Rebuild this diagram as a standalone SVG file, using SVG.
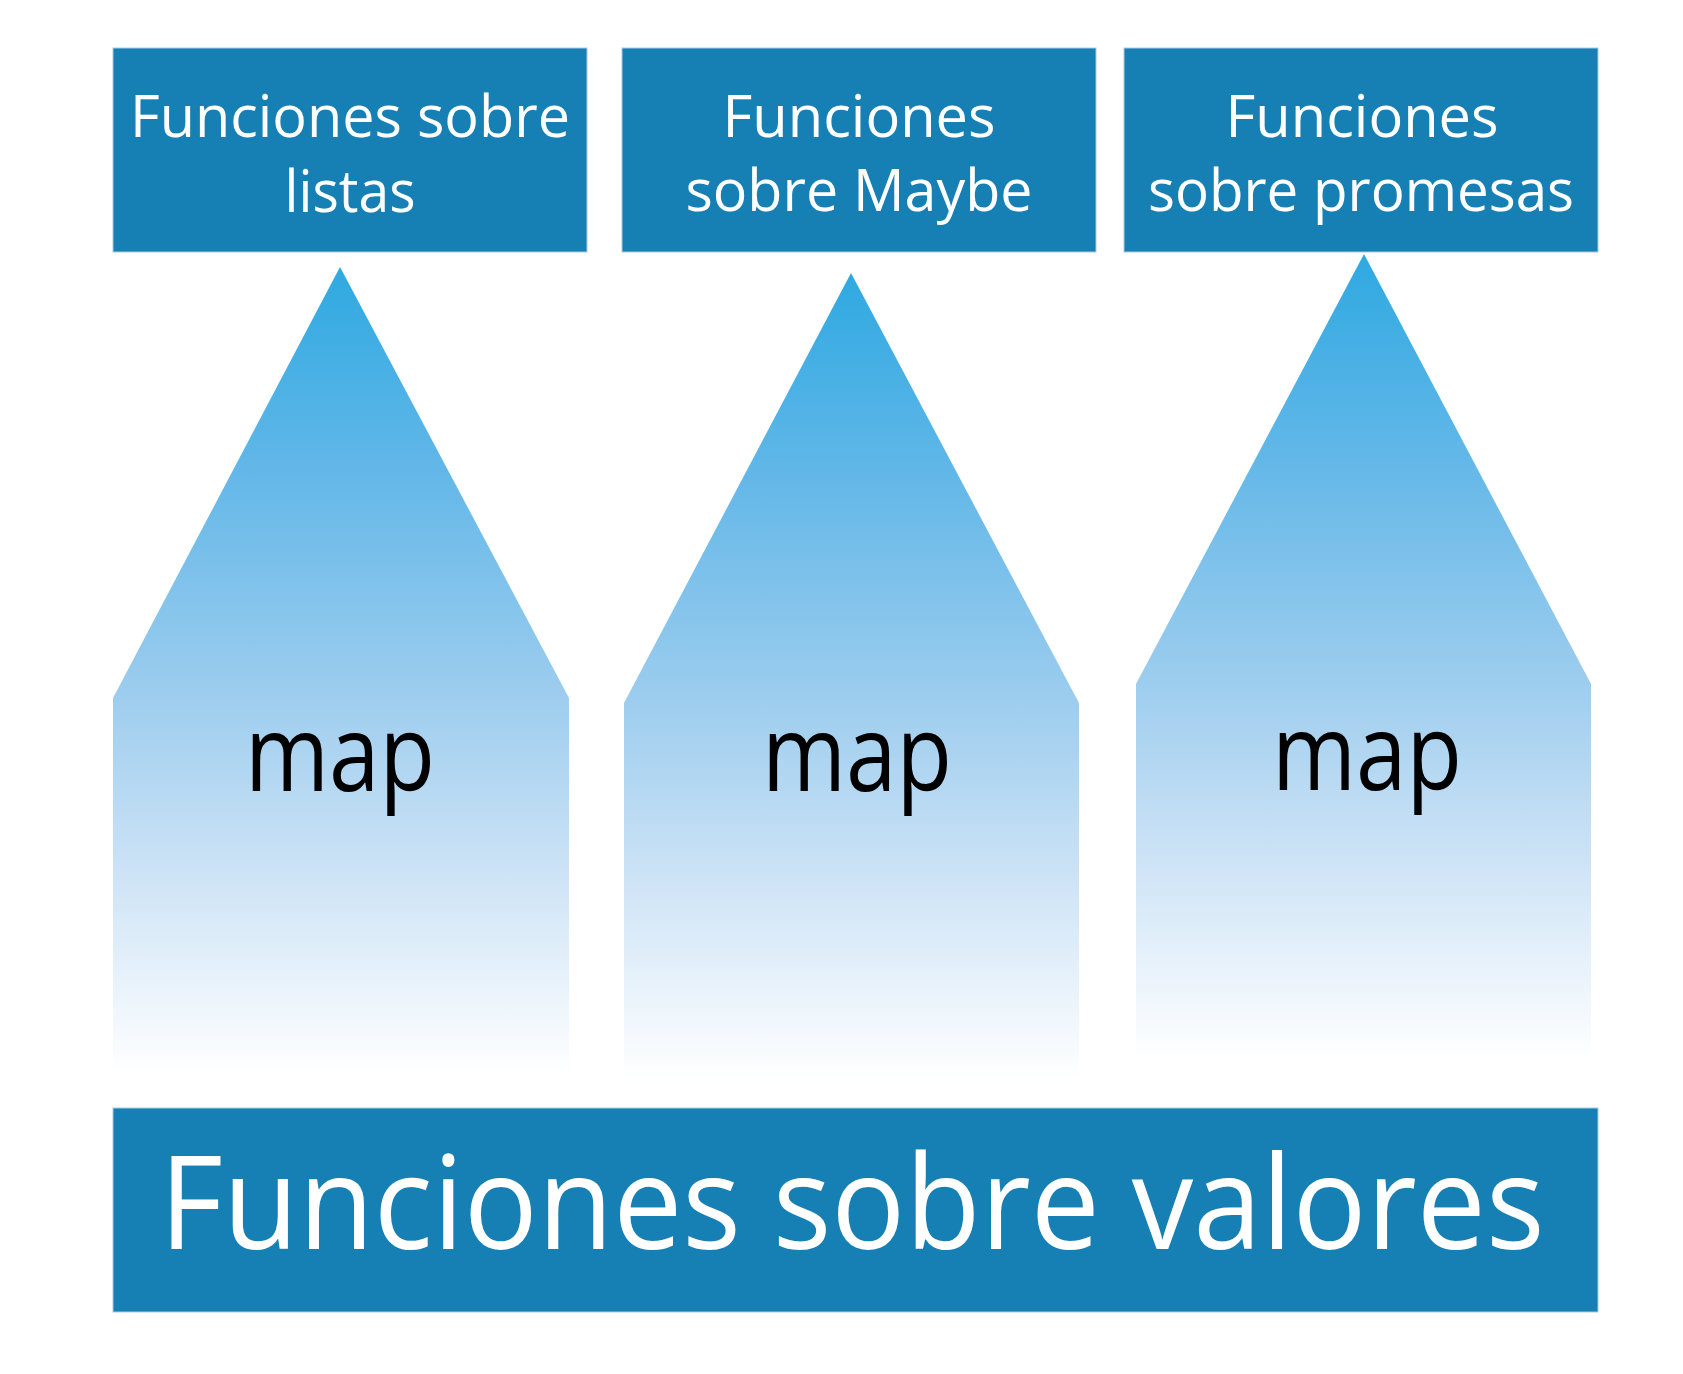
<svg xmlns="http://www.w3.org/2000/svg" width="1683" height="1374" viewBox="0 0 1683 1374">
<style>
.box{fill:#1680b4;stroke:#a9c9e2;stroke-width:1}
.wt{font-family:"Open Sans","Noto Sans",sans-serif;fill:#ffffff;text-anchor:middle}
.top{font-size:58px}
.big{font-size:130px}
.map{font-family:"Open Sans","Noto Sans",sans-serif;font-size:106px;fill:#000000;text-anchor:middle}
</style>
<defs>
<linearGradient id="g1" gradientUnits="userSpaceOnUse" x1="0" y1="267" x2="0" y2="1075">
<stop offset="0" stop-color="#2ea9e1"/>
<stop offset="0.25" stop-color="#62b7e8"/>
<stop offset="0.53" stop-color="#9dcdee"/>
<stop offset="0.75" stop-color="#cde3f6"/>
<stop offset="1" stop-color="#ffffff"/>
</linearGradient>
<linearGradient id="g2" gradientUnits="userSpaceOnUse" x1="0" y1="273" x2="0" y2="1080">
<stop offset="0" stop-color="#2ea9e1"/>
<stop offset="0.25" stop-color="#62b7e8"/>
<stop offset="0.53" stop-color="#9dcdee"/>
<stop offset="0.75" stop-color="#cde3f6"/>
<stop offset="1" stop-color="#ffffff"/>
</linearGradient>
<linearGradient id="g3" gradientUnits="userSpaceOnUse" x1="0" y1="254" x2="0" y2="1060">
<stop offset="0" stop-color="#2ea9e1"/>
<stop offset="0.25" stop-color="#62b7e8"/>
<stop offset="0.53" stop-color="#9dcdee"/>
<stop offset="0.75" stop-color="#cde3f6"/>
<stop offset="1" stop-color="#ffffff"/>
</linearGradient>
</defs>
<g id="connectors">
<g id="arrow-listas">
<polygon points="340,267 569,698 569,1075 113,1075 113,698" fill="url(#g1)"/>
<text class="map" x="340" y="791" textLength="190" lengthAdjust="spacingAndGlyphs">map</text>
</g>
<g id="arrow-maybe">
<polygon points="851,273 1079,703 1079,1080 624,1080 624,703" fill="url(#g2)"/>
<text class="map" x="857" y="791" textLength="190" lengthAdjust="spacingAndGlyphs">map</text>
</g>
<g id="arrow-promesas">
<polygon points="1364,254 1591,684 1591,1060 1136,1060 1136,684" fill="url(#g3)"/>
<text class="map" x="1367" y="790" textLength="190" lengthAdjust="spacingAndGlyphs">map</text>
</g>
</g>
<g id="node-listas">
<rect class="box" x="113" y="48" width="474" height="204"/>
<text class="wt top" x="350" y="137" textLength="440" lengthAdjust="spacingAndGlyphs">Funciones sobre</text>
<text class="wt top" x="350" y="212" textLength="131" lengthAdjust="spacingAndGlyphs">listas</text>
</g>
<g id="node-maybe">
<rect class="box" x="622" y="48" width="474" height="204"/>
<text class="wt top" x="859" y="137" textLength="273" lengthAdjust="spacingAndGlyphs">Funciones</text>
<text class="wt top" x="859" y="211" textLength="347" lengthAdjust="spacingAndGlyphs">sobre Maybe</text>
</g>
<g id="node-promesas">
<rect class="box" x="1124" y="48" width="474" height="204"/>
<text class="wt top" x="1362" y="137" textLength="273" lengthAdjust="spacingAndGlyphs">Funciones</text>
<text class="wt top" x="1361" y="211" textLength="426" lengthAdjust="spacingAndGlyphs">sobre promesas</text>
</g>
<g id="node-valores">
<rect class="box" x="113" y="1108" width="1485" height="204"/>
<text class="wt big" x="852" y="1249" textLength="1385" lengthAdjust="spacingAndGlyphs">Funciones sobre valores</text>
</g>
</svg>
